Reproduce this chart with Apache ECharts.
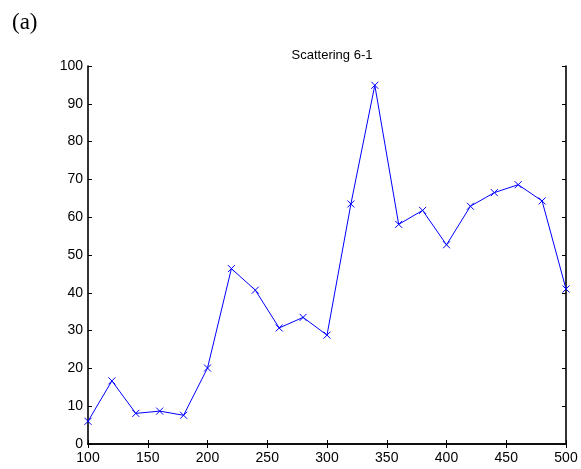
<!DOCTYPE html>
<html>
<head>
<meta charset="utf-8">
<script src="https://cdn.jsdelivr.net/npm/echarts@6/dist/echarts.min.js"></script>
<style>
  html, body { margin: 0; padding: 0; background: #fff; }
  #main { width: 581px; height: 469px; }
</style>
</head>
<body>
<div id="main"></div>
<script>
// data
const xs = [100, 120, 140, 160, 180, 200, 220, 240, 260, 280, 300,
            320, 340, 360, 380, 400, 420, 440, 460, 480, 500];
const ys = [6.0, 16.7, 8.1, 8.7, 7.6, 20.1, 46.4, 40.7, 30.7, 33.5, 28.8,
            63.5, 94.9, 58.1, 61.8, 52.7, 62.9, 66.5, 68.6, 64.3, 41.0];

const myChart = echarts.init(document.getElementById('main'));
const font = 'Liberation Sans, Arial, sans-serif';
const tick = { show: true, inside: true, length: 4, lineStyle: { color: '#000', width: 1 } };
const axisLine = { show: true, lineStyle: { color: '#000', width: 1.6 } };

myChart.setOption({
  animation: false,
  backgroundColor: '#fff',
  title: [
    {
      text: 'Scattering 6-1',
      left: 327, top: 44, textAlign: 'center',
      textStyle: { fontFamily: font, fontSize: 13, fontWeight: 'normal', color: '#000' }
    },
    {
      text: '(a)',
      left: 7, top: 6,
      textStyle: { fontFamily: 'Liberation Serif, Times New Roman, serif', fontSize: 23, fontWeight: 'normal', color: '#000' }
    }
  ],
  grid: { left: 88, right: 15, top: 66, bottom: 25 },
  xAxis: [
    {
      type: 'value', min: 100, max: 500, interval: 50,
      axisLine: axisLine, axisTick: tick, splitLine: { show: false },
      axisLabel: { fontFamily: font, fontSize: 14, color: '#000', margin: 7 }
    },
    {
      type: 'value', position: 'top', min: 100, max: 500, interval: 50,
      axisLine: axisLine, axisTick: tick, splitLine: { show: false },
      axisLabel: { show: false }
    }
  ],
  yAxis: [
    {
      type: 'value', min: 0, max: 100, interval: 10,
      axisLine: axisLine, axisTick: tick, splitLine: { show: false },
      axisLabel: { fontFamily: font, fontSize: 14, color: '#000', margin: 5 }
    },
    {
      type: 'value', position: 'right', min: 0, max: 100, interval: 10,
      axisLine: axisLine, axisTick: tick, splitLine: { show: false },
      axisLabel: { show: false }
    }
  ],
  series: [
    {
      type: 'line',
      data: xs.map((x, i) => [x, ys[i]]),
      symbol: 'path://M0,0L10,10M10,0L0,10',
      symbolSize: 7,
      showAllSymbol: true,
      lineStyle: { color: '#0000ff', width: 1 },
      itemStyle: { color: '#0000ff', borderColor: '#0000ff', borderWidth: 1 }
    }
  ]
});
</script>
</body>
</html>
